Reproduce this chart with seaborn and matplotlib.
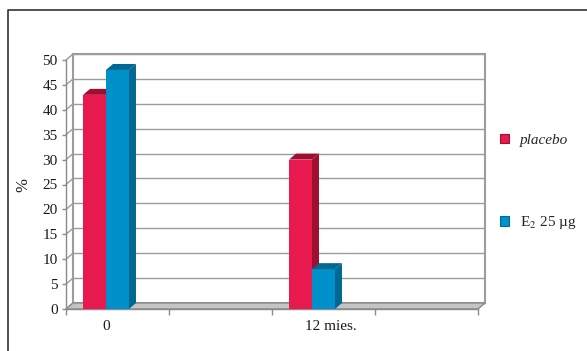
import matplotlib
matplotlib.use("Agg")
import matplotlib.pyplot as plt
from matplotlib.patches import Polygon, Patch
from matplotlib.lines import Line2D
import pandas as pd
import seaborn as sns

# Data: share of patients (%) at baseline and after 12 months
months = [0, 12]
month_labels = ["0", "12 mies."]
groups = ["placebo", "E$_2$ 25 µg"]
placebo = [43, 30]
e2_25 = [48, 8]
y_ticks = list(range(0, 51, 5))

front_colors = ["#E8194F", "#0091CB"]
shade_colors = ["#A00F30", "#006892"]

df = pd.DataFrame({
    "miesiac": months * 2,
    "procent": placebo + e2_25,
    "grupa": [groups[0]] * len(months) + [groups[1]] * len(months),
})

sns.set_theme(style="white")
plt.rcParams["font.family"] = ["Liberation Serif", "DejaVu Serif"]
plt.rcParams["mathtext.fontset"] = "stix"

W, H = 587, 351
fig = plt.figure(figsize=(W / 100, H / 100), dpi=100)
fig.patch.set_facecolor("white")

# front plane of the pseudo-3D plot area (pixels)
x0p, x1p, y0p, y1p = 66, 478, 309, 60
ax = fig.add_axes([x0p / W, 1 - y0p / H, (x1p - x0p) / W, (y0p - y1p) / H])
ax.patch.set_alpha(0)

sns.barplot(data=df, x="miesiac", y="procent", hue="grupa", hue_order=groups,
            palette=front_colors, native_scale=True, width=0.223,
            errorbar=None, saturation=1, legend=False, ax=ax, linewidth=0)

xl, xr = -2.33, 21.67
ymax = 50
ax.set_xlim(xl, xr)
ax.set_ylim(0, ymax)

# depth offset of the walls and bars, converted to data units
dx = 7 * (xr - xl) / (x1p - x0p)
dy = 6 * ymax / (y0p - y1p)

grid_c = "#9c9c9c"
axis_c = "#8a8a8a"
text_c = "#1a1a1a"

# back wall, gridlines and side wall
ax.add_patch(Polygon([(xl + dx, dy), (xr + dx, dy), (xr + dx, ymax + dy), (xl + dx, ymax + dy)],
                     closed=True, facecolor="none", edgecolor=grid_c, lw=1.5,
                     clip_on=False, zorder=1))
for yv in y_ticks:
    ax.plot([xl + dx, xr + dx], [yv + dy, yv + dy], color=grid_c, lw=1,
            clip_on=False, zorder=1)
    ax.plot([xl, xl + dx], [yv, yv + dy], color=grid_c, lw=1,
            clip_on=False, zorder=1)

# floor
ax.add_patch(Polygon([(xl, 0), (xr, 0), (xr + dx, dy), (xl + dx, dy)], closed=True,
                     facecolor="#c4c4c4", edgecolor="#8a8a8a", lw=1,
                     clip_on=False, zorder=2))

# side and top faces of every bar
for i, cont in enumerate(ax.containers):
    for bar in cont:
        bar.set_zorder(3 + i)
        bx0 = bar.get_x()
        bx1 = bx0 + bar.get_width()
        h = bar.get_height()
        side = Polygon([(bx1, 0), (bx1 + dx, dy), (bx1 + dx, h + dy), (bx1, h)], closed=True,
                       facecolor=shade_colors[i], edgecolor="none", zorder=3 + i + 0.5,
                       clip_on=False)
        top = Polygon([(bx0, h), (bx1, h), (bx1 + dx, h + dy), (bx0 + dx, h + dy)], closed=True,
                      facecolor=shade_colors[i], edgecolor="none", zorder=3 + i + 0.5,
                      clip_on=False)
        ax.add_patch(side)
        ax.add_patch(top)

for s in ["top", "right"]:
    ax.spines[s].set_visible(False)
for s in ["left", "bottom"]:
    ax.spines[s].set_color(axis_c)
    ax.spines[s].set_linewidth(1)
    ax.spines[s].set_zorder(2.5)

ax.set_yticks(y_ticks)
ax.set_yticklabels([str(v) for v in y_ticks])
ax.tick_params(axis="y", length=3, width=1, color=axis_c, pad=3, labelsize=11,
               labelcolor=text_c, left=True)
ax.set_xticks([0, 13.1])
ax.set_xticklabels(month_labels)
ax.set_xticks([xl + 6 * k for k in range(5)], minor=True)
ax.tick_params(axis="x", which="major", length=0, pad=8, labelsize=11,
               labelcolor=text_c)
ax.tick_params(axis="x", which="minor", length=4, width=1, color=axis_c, bottom=True)

ax.set_xlabel("")
ax.set_ylabel("%", fontsize=12, color=text_c)
ax.yaxis.set_label_coords((31 - x0p) / (x1p - x0p), 0.5)

handles = [Patch(facecolor=front_colors[i], edgecolor=shade_colors[i], lw=0.8)
           for i in range(len(groups))]
leg = fig.legend(handles, groups, loc="center left",
                 bbox_to_anchor=(500 / W, 1 - 182.5 / H), frameon=False,
                 borderpad=0, borderaxespad=0, handlelength=0.6, handleheight=0.6,
                 handletextpad=0.7, labelspacing=4.4, fontsize=11)
leg.get_texts()[0].set_style("italic")

# outer chart frame
fig.add_artist(Line2D([8 / W, 8 / W, 1], [0, 1 - 10 / H, 1 - 10 / H],
                      transform=fig.transFigure, color="#333333", lw=1.2))

fig.savefig("out.png", dpi=100)
